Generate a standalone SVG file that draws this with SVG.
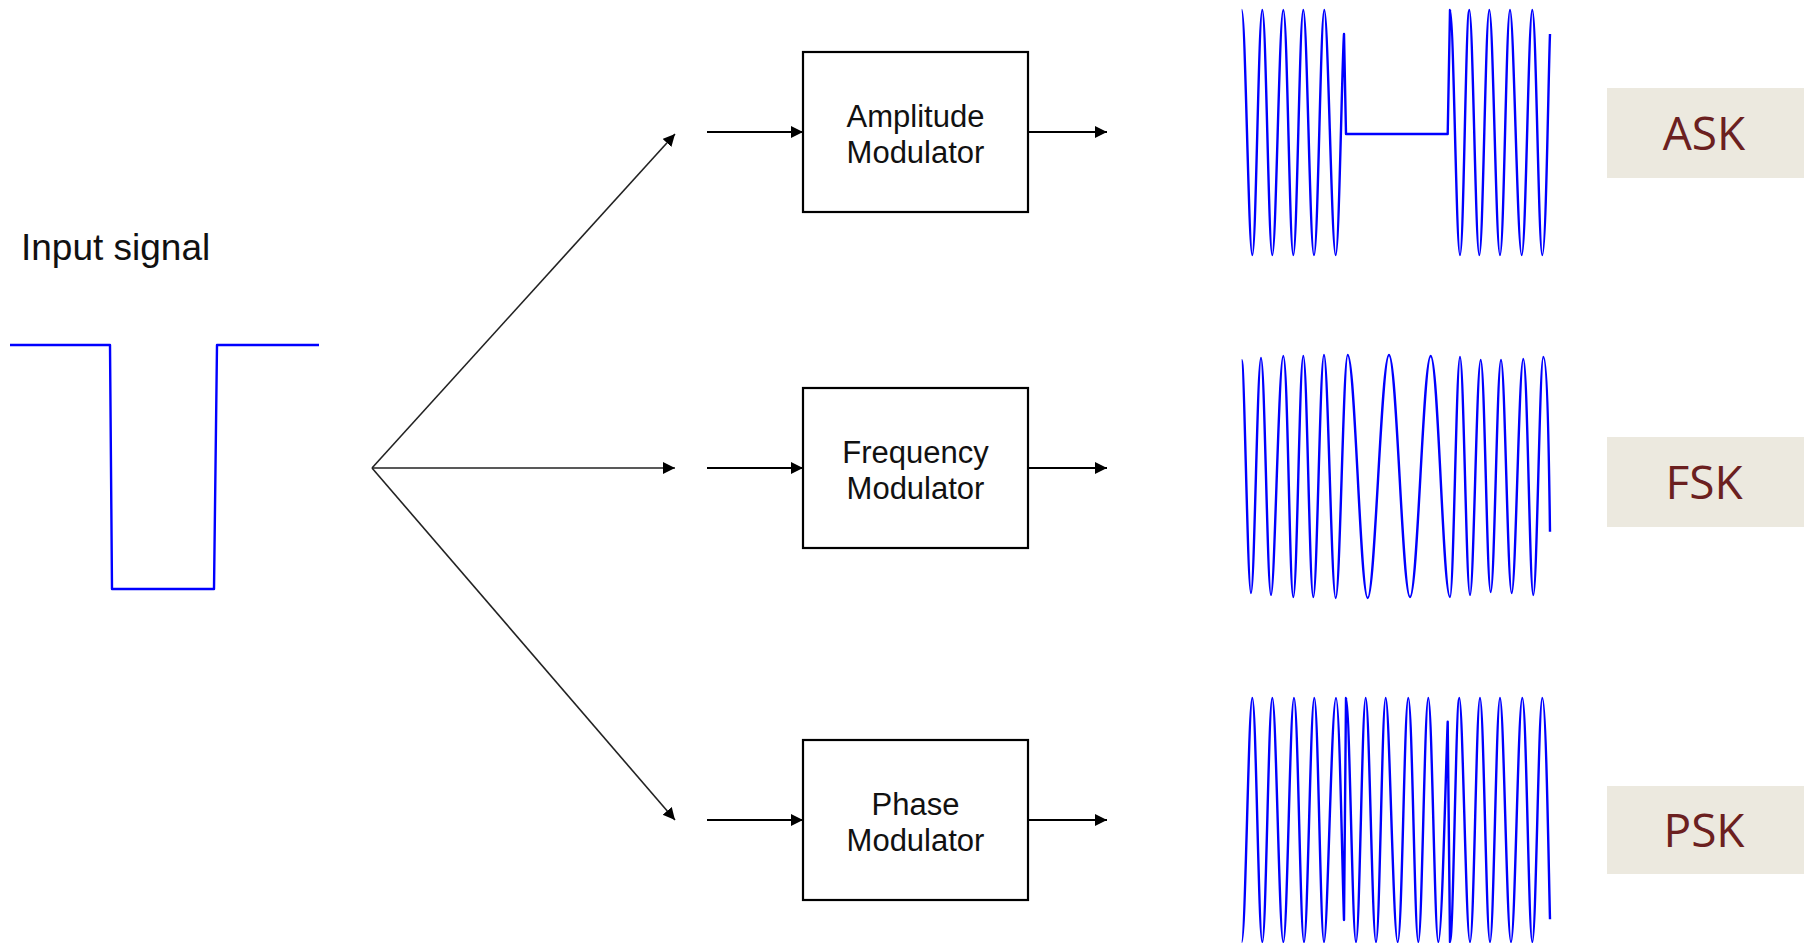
<svg xmlns="http://www.w3.org/2000/svg" width="1804" height="943" viewBox="0 0 1804 943">
<style>
.box{fill:#fff;stroke:#000;stroke-width:2.2}
.bt{font-family:"Liberation Sans",Arial,sans-serif;font-size:31px;fill:#111;text-anchor:middle}
.wave{fill:none;stroke:#0000ff;stroke-width:2.4;stroke-linejoin:round}
.fan{fill:none;stroke:#222;stroke-width:1.6}
.hz{fill:none;stroke:#000;stroke-width:2.2}
.lbl{fill:#ece9df}
.lt{font-family:"Open Sans","Noto Sans",sans-serif;font-size:46px;fill:#6b2020;text-anchor:middle}
</style>
<defs>
<marker id="ah" markerUnits="userSpaceOnUse" markerWidth="14" markerHeight="14" refX="12" refY="6" orient="auto">
<path d="M0,0 L12,6 L0,12 z" fill="#000"/>
</marker>
</defs>
<rect width="1804" height="943" fill="#fff"/>

<g id="input">
<text x="21" y="260" font-family="Liberation Sans,Arial,sans-serif" font-size="37" fill="#111">Input signal</text>
<polyline class="wave" stroke-width="1.7" points="10,345 110,345 112,589 214,589 217,345 319,345"/>
</g>

<g id="connectors">
<line class="fan" x1="372" y1="468" x2="675" y2="134" marker-end="url(#ah)"/>
<line class="fan" stroke-width="2" x1="372" y1="468" x2="675" y2="468" marker-end="url(#ah)"/>
<line class="fan" x1="372" y1="468" x2="675" y2="820" marker-end="url(#ah)"/>
<line class="hz" x1="707" y1="132" x2="803" y2="132" marker-end="url(#ah)"/>
<line class="hz" x1="1028" y1="132" x2="1107" y2="132" marker-end="url(#ah)"/>
<line class="hz" x1="707" y1="468" x2="803" y2="468" marker-end="url(#ah)"/>
<line class="hz" x1="1028" y1="468" x2="1107" y2="468" marker-end="url(#ah)"/>
<line class="hz" x1="707" y1="820" x2="803" y2="820" marker-end="url(#ah)"/>
<line class="hz" x1="1028" y1="820" x2="1107" y2="820" marker-end="url(#ah)"/>
</g>

<g id="amp">
<rect class="box" x="803" y="52" width="225" height="160"/>
<text class="bt" x="915.5" y="127">Amplitude</text>
<text class="bt" x="915.5" y="163">Modulator</text>
</g>
<g id="freq">
<rect class="box" x="803" y="388" width="225" height="160"/>
<text class="bt" x="915.5" y="463">Frequency</text>
<text class="bt" x="915.5" y="499">Modulator</text>
</g>
<g id="phase">
<rect class="box" x="803" y="740" width="225" height="160"/>
<text class="bt" x="915.5" y="815">Phase</text>
<text class="bt" x="915.5" y="851">Modulator</text>
</g>

<g id="ask-wave">
<path class="wave" d="M1241.7,10 C1245.4,10 1248.6,255 1252.3,255 S1258.6,10 1262.3,10 S1268.6,255 1272.3,255 S1279.3,10 1283.3,10 S1289.6,255 1293.3,255 S1299.6,10 1303.3,10 S1310,255 1314,255 S1320.6,10 1324.3,10 S1331.7,255 1335.7,255 C1339,255 1342,60 1344,34 L1346,134 L1447.7,134 L1450,10 C1453.6,10 1456.3,255 1460,255 S1465.8,10 1469.3,10 S1475.6,255 1479.3,255 S1485.6,10 1489.3,10 S1496.1,255 1500,255 S1506.3,10 1510,10 S1517.5,255 1521.7,255 S1528.5,10 1532.3,10 S1538.6,255 1542.3,255 C1546,255 1548.5,70 1550,34"/>
</g>
<g id="fsk-wave">
<path class="wave" d="M1241.7,360 C1244.5,360 1247.6,593 1251,593 S1257.4,358 1261,358 S1267.4,595 1271,595 S1278.8,356 1283.3,356 S1289.6,597 1293.3,597 S1299.6,356 1303.3,356 S1309.6,597 1313.3,597 S1320.1,355 1324,355 S1331.5,598 1335.7,598 C1340,598 1343.3,355 1347.7,355 C1355,355 1360.4,598 1367.7,598 S1381.3,355 1389,355 S1402.4,597 1410,597 S1423.2,356 1430.7,356 S1443,597 1450,597 C1453.6,597 1456.4,357 1460,357 S1466.4,595 1470,595 S1476.8,360 1480.7,360 S1487,592 1490.7,592 S1497.2,360 1501,360 S1507.8,593 1511.7,593 S1519.1,359 1523.3,359 S1529.7,595 1533.3,595 S1539.7,357 1543.3,357 C1546.5,357 1548.5,420 1550,531.7"/>
</g>
<g id="psk-wave">
<path class="wave" d="M1241.7,942 C1245.5,942 1248.6,698 1252.3,698 S1258.6,942 1262.3,942 S1268.6,698 1272.3,698 S1279.3,942 1283.3,942 S1290.1,698 1294,698 S1300.4,942 1304,942 S1310.6,698 1314.3,698 S1320.5,942 1324,942 S1331.6,698 1336,698 C1339.5,698 1342.5,880 1344,920 L1346,698 C1349.6,698 1352.4,942 1356,942 S1362.2,698 1365.7,698 S1372.3,942 1376,942 S1382.1,698 1385.7,698 S1393.3,942 1397.7,942 S1404.4,698 1408.3,698 S1414.7,942 1418.3,942 S1424.7,698 1428.3,698 S1434.7,942 1438.3,942 C1442,942 1446,760 1447.7,721.7 L1450,942 C1453.4,942 1455.9,698 1459.3,698 S1466.1,942 1470,942 S1476.4,698 1480,698 S1486.4,942 1490,942 S1496.4,698 1500,698 S1507,942 1511,942 S1518.2,698 1522.3,698 S1528.7,942 1532.3,942 S1538.7,698 1542.3,698 C1546,698 1548.5,860 1550,919.3"/>
</g>

<g id="ask">
<rect class="lbl" x="1607" y="88" width="197" height="90"/>
<text class="lt" x="1704" y="150">ASK</text>
</g>
<g id="fsk">
<rect class="lbl" x="1607" y="437" width="197" height="90"/>
<text class="lt" x="1704" y="499">FSK</text>
</g>
<g id="psk">
<rect class="lbl" x="1607" y="786" width="197" height="88"/>
<text class="lt" x="1704" y="847">PSK</text>
</g>
</svg>
